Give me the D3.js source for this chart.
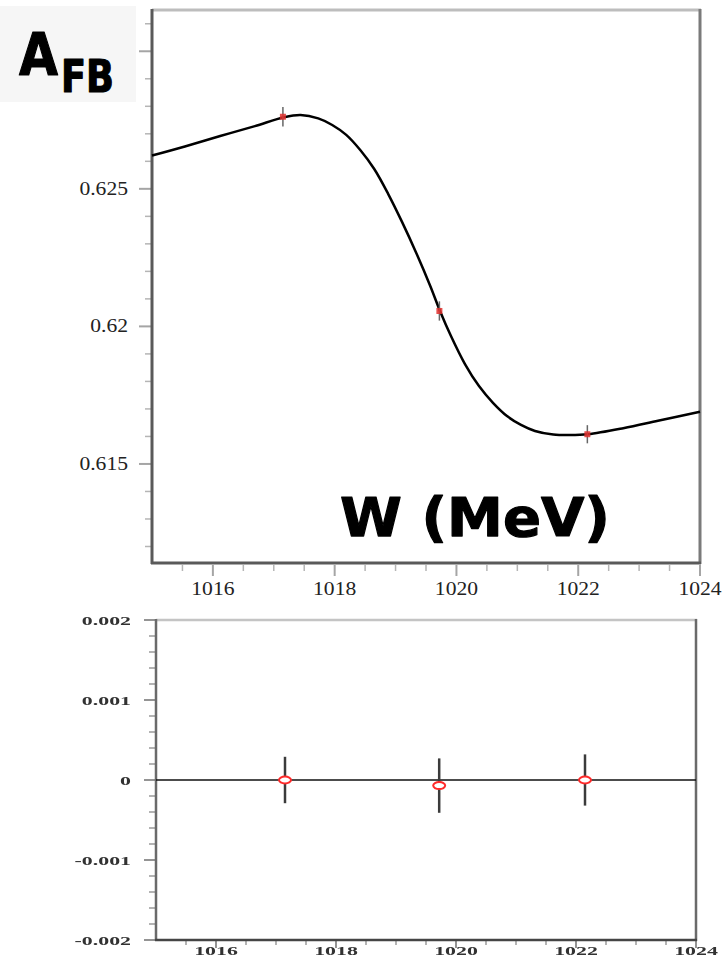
<!DOCTYPE html>
<html>
<head>
<meta charset="utf-8">
<script src="https://cdn.jsdelivr.net/npm/d3@7"></script>
<style>
  html, body { margin: 0; padding: 0; background: #ffffff; }
  svg { display: block; }
</style>
</head>
<body>
<svg id="chart" width="726" height="958"></svg>
<script>
// Beam energy W (MeV) of the three scan points
const energies = [1017.15, 1019.72, 1022.15];
// Measured forward-backward asymmetry and its uncertainty
const afbValues = [0.62762, 0.62056, 0.61608];
const afbErrors = [0.00035, 0.00035, 0.00033];
// Residuals (data - fit) and their uncertainty
const residuals = [0.0, -0.00007, 0.0];
const residualErrors = [0.00029, 0.00034, 0.00032];
// Fitted A_FB curve, sampled along W
const fitW = [1015.0, 1015.54, 1016.12, 1016.69, 1017.17, 1017.44, 1017.73, 1017.96, 1018.19,
              1018.42, 1018.65, 1018.88, 1019.11, 1019.34, 1019.57, 1019.73, 1019.91, 1020.14,
              1020.37, 1020.60, 1020.83, 1021.06, 1021.29, 1021.59, 1021.86, 1022.16, 1022.74,
              1023.31, 1024.0];
const fitA = [0.62621, 0.62654, 0.62692, 0.62728, 0.62760, 0.62768, 0.62756, 0.62732, 0.62696,
              0.62641, 0.62572, 0.62481, 0.62378, 0.62267, 0.62147, 0.62056, 0.61965, 0.61863,
              0.61783, 0.61722, 0.61674, 0.61642, 0.61620, 0.61607, 0.61605, 0.61608, 0.61630,
              0.61657, 0.61690];
// Axis ticks and labels (0.63 carries a tick but no printed label)
const wTicks = [1016, 1018, 1020, 1022, 1024];
const wMinor = [1015.5, 1016.5, 1017, 1017.5, 1018.5, 1019, 1019.5, 1020.5, 1021, 1021.5,
                1022.5, 1023, 1023.5];
const afbTicks = [0.615, 0.62, 0.625, 0.63];
const afbLabelled = [0.615, 0.62, 0.625];
const afbTickLabels = ["0.615", "0.62", "0.625"];
const afbMinor = [0.612, 0.613, 0.614, 0.616, 0.617, 0.618, 0.619, 0.621, 0.622, 0.623, 0.624,
                  0.626, 0.627, 0.628, 0.629, 0.631];
const resTicks = [-0.002, -0.001, 0, 0.001, 0.002];
const resTickLabels = ["-0.002", "-0.001", "0", "0.001", "0.002"];
const resMinor = [-0.0018, -0.0016, -0.0014, -0.0012, -0.0008, -0.0006, -0.0004, -0.0002,
                  0.0002, 0.0004, 0.0006, 0.0008, 0.0012, 0.0014, 0.0016, 0.0018];

const svg = d3.select("#chart");
const titleFont = "'Comic Sans MS', 'DejaVu Sans', sans-serif";

// ---------- upper panel: A_FB vs W ----------
const xTop = d3.scaleLinear().domain([1015, 1024]).range([152, 700]);
const yTop = d3.scaleLinear().domain([0.6114, 0.6315]).range([563, 10]);

const upper = svg.append("g");

// y ticks
upper.selectAll("line.ymin").data(afbMinor).join("line")
  .attr("x1", 145).attr("x2", 151)
  .attr("y1", d => yTop(d)).attr("y2", d => yTop(d))
  .attr("stroke", "#b5b5b5").attr("stroke-width", 1.5);
upper.selectAll("line.ymaj").data(afbTicks).join("line")
  .attr("x1", 139).attr("x2", 151)
  .attr("y1", d => yTop(d)).attr("y2", d => yTop(d))
  .attr("stroke", "#a5a5a5").attr("stroke-width", 2);
upper.selectAll("text.ylab").data(afbLabelled).join("text")
  .attr("transform", d => `translate(128,${yTop(d) + 6}) scale(1.2,1)`)
  .attr("text-anchor", "end")
  .attr("font-family", "Liberation Serif, serif")
  .attr("font-size", 18)
  .attr("fill", "#222")
  .text((d, i) => afbTickLabels[i]);

// x ticks
upper.selectAll("line.xmin").data(wMinor).join("line")
  .attr("x1", d => xTop(d)).attr("x2", d => xTop(d))
  .attr("y1", 565).attr("y2", 571)
  .attr("stroke", "#b5b5b5").attr("stroke-width", 1.5);
upper.selectAll("line.xmaj").data(wTicks).join("line")
  .attr("x1", d => xTop(d)).attr("x2", d => xTop(d))
  .attr("y1", 565).attr("y2", 576)
  .attr("stroke", "#a5a5a5").attr("stroke-width", 2);
upper.selectAll("text.xlab").data(wTicks).join("text")
  .attr("transform", d => `translate(${xTop(d)},595) scale(1.2,1)`)
  .attr("text-anchor", "middle")
  .attr("font-family", "Liberation Serif, serif")
  .attr("font-size", 18)
  .attr("fill", "#222")
  .text(d => d);

// frame
upper.append("line").attr("x1", 152).attr("x2", 701).attr("y1", 10).attr("y2", 10)
  .attr("stroke", "#bdbdbd").attr("stroke-width", 3);
upper.append("line").attr("x1", 700).attr("x2", 700).attr("y1", 9).attr("y2", 564)
  .attr("stroke", "#7a7a7a").attr("stroke-width", 3);
upper.append("line").attr("x1", 152).attr("x2", 152).attr("y1", 9).attr("y2", 564)
  .attr("stroke", "#5a5a5a").attr("stroke-width", 3);
upper.append("line").attr("x1", 151).attr("x2", 701).attr("y1", 563).attr("y2", 563)
  .attr("stroke", "#5a5a5a").attr("stroke-width", 3);

// fit curve
const fitLine = d3.line()
  .x((d, i) => xTop(fitW[i]))
  .y((d, i) => yTop(fitA[i]))
  .curve(d3.curveCatmullRom.alpha(0.5));
upper.append("path").datum(fitA)
  .attr("d", fitLine)
  .attr("fill", "none").attr("stroke", "#000").attr("stroke-width", 2.5)
  .attr("stroke-linejoin", "round");

// data points
upper.selectAll("line.err").data(energies).join("line")
  .attr("x1", d => xTop(d)).attr("x2", d => xTop(d))
  .attr("y1", (d, i) => yTop(afbValues[i] - afbErrors[i]))
  .attr("y2", (d, i) => yTop(afbValues[i] + afbErrors[i]))
  .attr("stroke", "#666").attr("stroke-width", 1.5);
upper.selectAll("rect.pt").data(energies).join("rect")
  .attr("x", d => xTop(d) - 3).attr("y", (d, i) => yTop(afbValues[i]) - 3)
  .attr("width", 6).attr("height", 6)
  .attr("fill", "#e0302e").attr("opacity", 0.85);

// axis title in the plot
upper.append("text")
  .attr("x", 340).attr("y", 536)
  .attr("font-family", titleFont)
  .attr("font-weight", "bold")
  .attr("font-size", 54)
  .attr("textLength", 270).attr("lengthAdjust", "spacingAndGlyphs")
  .attr("fill", "#000").attr("stroke", "#000").attr("stroke-width", 1.2).attr("stroke-linejoin", "round")
  .text("W (MeV)");

// A_FB label box
const lab = svg.append("g");
lab.append("rect").attr("x", 0).attr("y", 6).attr("width", 136).attr("height", 96).attr("fill", "#f6f6f6");
lab.append("text")
  .attr("x", 19).attr("y", 75)
  .attr("font-family", titleFont)
  .attr("font-weight", "bold").attr("font-size", 58)
  .attr("textLength", 39).attr("lengthAdjust", "spacingAndGlyphs")
  .attr("fill", "#000").attr("stroke", "#000").attr("stroke-width", 1.2).attr("stroke-linejoin", "round")
  .text("A");
lab.append("text")
  .attr("x", 61).attr("y", 92)
  .attr("font-family", titleFont)
  .attr("font-weight", "bold").attr("font-size", 44)
  .attr("textLength", 53).attr("lengthAdjust", "spacingAndGlyphs")
  .attr("fill", "#000").attr("stroke", "#000").attr("stroke-width", 1.2).attr("stroke-linejoin", "round")
  .text("FB");

// ---------- lower panel: residuals ----------
const xBot = d3.scaleLinear().domain([1015, 1024]).range([156, 696]);
const yBot = d3.scaleLinear().domain([-0.002, 0.002]).range([940, 620]);

const defs = svg.append("defs");
defs.append("filter").attr("id", "soft")
  .append("feGaussianBlur").attr("stdDeviation", 0.6);

const lower = svg.append("g").attr("filter", "url(#soft)");

lower.selectAll("line.ymin").data(resMinor).join("line")
  .attr("x1", 149).attr("x2", 156)
  .attr("y1", d => yBot(d)).attr("y2", d => yBot(d))
  .attr("stroke", "#9a9a9a").attr("stroke-width", 1.5);
lower.selectAll("line.ymaj").data(resTicks).join("line")
  .attr("x1", 144).attr("x2", 156)
  .attr("y1", d => yBot(d)).attr("y2", d => yBot(d))
  .attr("stroke", "#888").attr("stroke-width", 1.8);
lower.selectAll("text.ylab").data(resTicks).join("text")
  .attr("transform", d => `translate(131,${yBot(d) + 4.5}) scale(1.75,1)`)
  .attr("text-anchor", "end")
  .attr("font-family", "Liberation Serif, serif")
  .attr("font-weight", "bold")
  .attr("font-size", 12.5)
  .attr("fill", "#333")
  .text((d, i) => resTickLabels[i]);

lower.selectAll("line.xmin").data(wMinor).join("line")
  .attr("x1", d => xBot(d)).attr("x2", d => xBot(d))
  .attr("y1", 941).attr("y2", 945)
  .attr("stroke", "#9a9a9a").attr("stroke-width", 1.5);
lower.selectAll("line.xmaj").data(wTicks).join("line")
  .attr("x1", d => xBot(d)).attr("x2", d => xBot(d))
  .attr("y1", 941).attr("y2", 948)
  .attr("stroke", "#888").attr("stroke-width", 1.8);
lower.selectAll("text.xlab").data(wTicks).join("text")
  .attr("transform", d => `translate(${xBot(d)},955) scale(1.75,1)`)
  .attr("text-anchor", "middle")
  .attr("font-family", "Liberation Serif, serif")
  .attr("font-weight", "bold")
  .attr("font-size", 12.5)
  .attr("fill", "#333")
  .text(d => d);

// frame
lower.append("line").attr("x1", 156).attr("x2", 697).attr("y1", 620).attr("y2", 620)
  .attr("stroke", "#c4c4c4").attr("stroke-width", 2.5);
lower.append("line").attr("x1", 696).attr("x2", 696).attr("y1", 619).attr("y2", 941)
  .attr("stroke", "#6a6a6a").attr("stroke-width", 2.5);
lower.append("line").attr("x1", 156).attr("x2", 156).attr("y1", 619).attr("y2", 941)
  .attr("stroke", "#6a6a6a").attr("stroke-width", 2.5);
lower.append("line").attr("x1", 155).attr("x2", 697).attr("y1", 940).attr("y2", 940)
  .attr("stroke", "#444").attr("stroke-width", 2.5);

// zero line
lower.append("line").attr("x1", xBot(1015)).attr("x2", xBot(1024))
  .attr("y1", yBot(0)).attr("y2", yBot(0))
  .attr("stroke", "#111").attr("stroke-width", 1.5);

// residual points
lower.selectAll("line.err").data(energies).join("line")
  .attr("x1", d => xBot(d)).attr("x2", d => xBot(d))
  .attr("y1", (d, i) => yBot(residuals[i] - residualErrors[i]))
  .attr("y2", (d, i) => yBot(residuals[i] + residualErrors[i]))
  .attr("stroke", "#3a3a3a").attr("stroke-width", 2.5);
lower.selectAll("ellipse.pt").data(energies).join("ellipse")
  .attr("cx", d => xBot(d)).attr("cy", (d, i) => yBot(residuals[i]))
  .attr("rx", 6).attr("ry", 3.5)
  .attr("fill", "#fff").attr("stroke", "#ff2a2a").attr("stroke-width", 2);
</script>
</body>
</html>
